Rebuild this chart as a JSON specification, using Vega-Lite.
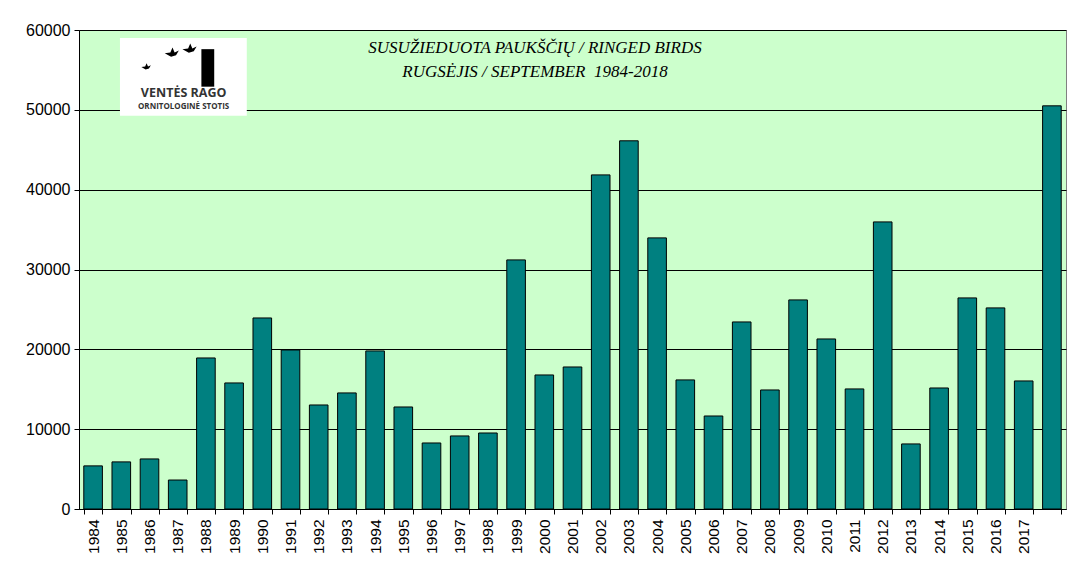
{
  "$schema": "https://vega.github.io/schema/vega-lite/v6.json",
  "autosize": {"type": "none"},
  "padding": {"left": 79, "top": 30, "right": 19, "bottom": 70},
  "width": 987,
  "height": 479,
  "background": "white",
  "config": {
    "view": {"fill": "#CCFFCC", "stroke": "#808080", "strokeWidth": 1},
    "font": "Liberation Sans"
  },
  "datasets": {
    "birds": [
      {"year": "1984", "ringed": 5400},
      {"year": "1985", "ringed": 5900},
      {"year": "1986", "ringed": 6270},
      {"year": "1987", "ringed": 3630},
      {"year": "1988", "ringed": 18920},
      {"year": "1989", "ringed": 15790},
      {"year": "1990", "ringed": 23930},
      {"year": "1991", "ringed": 19920},
      {"year": "1992", "ringed": 13030},
      {"year": "1993", "ringed": 14540},
      {"year": "1994", "ringed": 19800},
      {"year": "1995", "ringed": 12780},
      {"year": "1996", "ringed": 8270},
      {"year": "1997", "ringed": 9150},
      {"year": "1998", "ringed": 9520},
      {"year": "1999", "ringed": 31200},
      {"year": "2000", "ringed": 16790},
      {"year": "2001", "ringed": 17790},
      {"year": "2002", "ringed": 41850},
      {"year": "2003", "ringed": 46120},
      {"year": "2004", "ringed": 33960},
      {"year": "2005", "ringed": 16170},
      {"year": "2006", "ringed": 11650},
      {"year": "2007", "ringed": 23430},
      {"year": "2008", "ringed": 14910},
      {"year": "2009", "ringed": 26190},
      {"year": "2010", "ringed": 21300},
      {"year": "2011", "ringed": 15040},
      {"year": "2012", "ringed": 35960},
      {"year": "2013", "ringed": 8150},
      {"year": "2014", "ringed": 15160},
      {"year": "2015", "ringed": 26440},
      {"year": "2016", "ringed": 25190},
      {"year": "2017", "ringed": 16040},
      {"year": "2018", "ringed": 50500}
    ],
    "titles": [
      {"pos": 0.462, "val": 57700, "label": "SUSUŽIEDUOTA PAUKŠČIŲ / RINGED BIRDS"},
      {"pos": 0.462, "val": 54700, "label": "RUGSĖJIS / SEPTEMBER\u00a0 1984-2018"}
    ],
    "logo": [{"x1": 0.0415, "x2": 0.170, "y1": 49250, "y2": 59000}],
    "logotext": [
      {"pos": 0.106, "val": 52050, "label": "VENTĖS RAGO", "size": 12.5},
      {"pos": 0.106, "val": 50300, "label": "ORNITOLOGINĖ STOTIS", "size": 8}
    ],
    "tower": [{"x1": 0.124, "x2": 0.137, "y1": 52900, "y2": 57600}],
    "flock": [
      {"pos": 0.068, "val": 55300, "size": 90},
      {"pos": 0.094, "val": 57000, "size": 200},
      {"pos": 0.112, "val": 57500, "size": 200}
    ]
  },
  "layer": [
    {
      "data": {"name": "birds"},
      "mark": {"type": "bar", "fill": "#008080", "stroke": "black", "strokeWidth": 1},
      "encoding": {
        "x": {
          "field": "year",
          "type": "ordinal",
          "scale": {"paddingInner": 0.34, "paddingOuter": 0.17},
          "axis": {
            "title": null,
            "labelAngle": 270,
            "labelFontSize": 15.5,
            "labelColor": "black",
            "labelPadding": 5,
            "labelExpr": "datum.value == '2018' ? '' : datum.value",
            "tickBand": "extent",
            "tickColor": "black",
            "tickSize": 5,
            "domainColor": "black",
            "labelFont": "Liberation Sans"
          }
        },
        "y": {
          "field": "ringed",
          "type": "quantitative",
          "scale": {"domain": [0, 60000], "nice": false},
          "axis": {
            "title": null,
            "values": [0, 10000, 20000, 30000, 40000, 50000, 60000],
            "format": "d",
            "labelFontSize": 16,
            "labelColor": "black",
            "labelPadding": 4,
            "tickColor": "black",
            "tickSize": 5,
            "domainColor": "black",
            "gridColor": "black",
            "gridOpacity": 1,
            "labelFont": "Liberation Sans"
          }
        }
      }
    },
    {
      "data": {"name": "logo"},
      "mark": {"type": "rect", "fill": "white"},
      "encoding": {
        "x": {"field": "x1", "type": "quantitative", "scale": {"domain": [0, 1]}, "axis": null},
        "x2": {"field": "x2"},
        "y": {"field": "y1", "type": "quantitative"},
        "y2": {"field": "y2"}
      }
    },
    {
      "data": {"name": "tower"},
      "mark": {"type": "rect", "fill": "black"},
      "encoding": {
        "x": {"field": "x1", "type": "quantitative", "scale": {"domain": [0, 1]}, "axis": null},
        "x2": {"field": "x2"},
        "y": {"field": "y1", "type": "quantitative"},
        "y2": {"field": "y2"}
      }
    },
    {
      "data": {"name": "flock"},
      "mark": {"type": "point", "shape": "M-1,-0.1L-0.2,-0.2L0.1,-0.9L0.4,-0.2L1,-0.5L0.6,0.2L-0.1,0.4Z", "filled": true, "color": "black", "opacity": 1},
      "encoding": {
        "x": {"field": "pos", "type": "quantitative", "scale": {"domain": [0, 1]}, "axis": null},
        "y": {"field": "val", "type": "quantitative"},
        "size": {"field": "size", "type": "quantitative", "scale": null, "legend": null}
      }
    },
    {
      "data": {"name": "logotext"},
      "mark": {"type": "text", "fontWeight": "bold", "color": "#333333", "font": "Open Sans", "baseline": "middle"},
      "encoding": {
        "x": {"field": "pos", "type": "quantitative", "scale": {"domain": [0, 1]}, "axis": null},
        "y": {"field": "val", "type": "quantitative"},
        "text": {"field": "label"},
        "size": {"field": "size", "type": "quantitative", "scale": null, "legend": null}
      }
    },
    {
      "data": {"name": "titles"},
      "mark": {"type": "text", "font": "Liberation Serif", "fontStyle": "italic", "fontSize": 17, "color": "black"},
      "encoding": {
        "x": {"field": "pos", "type": "quantitative", "scale": {"domain": [0, 1]}, "axis": null},
        "y": {"field": "val", "type": "quantitative"},
        "text": {"field": "label"}
      }
    }
  ],
  "resolve": {"scale": {"x": "independent"}}
}
